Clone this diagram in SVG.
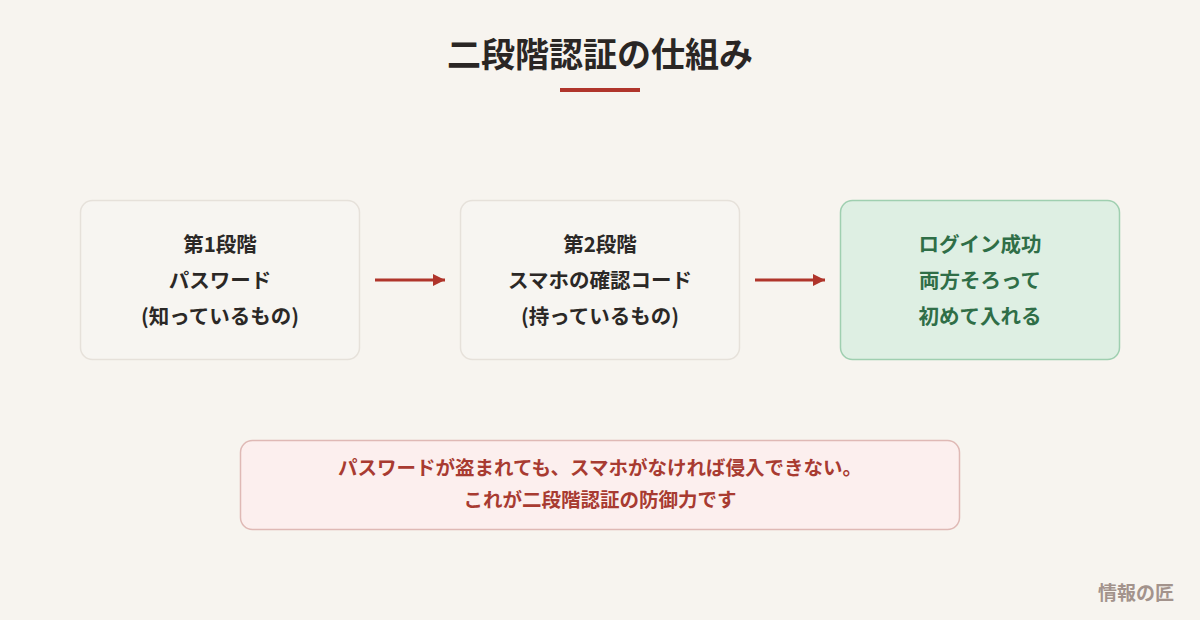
<svg xmlns="http://www.w3.org/2000/svg" width="1200" height="620" viewBox="0 0 1200 620">
<style>
text{font-family:"Noto Sans CJK JP","Noto Sans",sans-serif;font-weight:700;text-anchor:middle}
.box{fill:#f7f5f1;stroke:#e6e1da;stroke-width:1.5}
.t{font-size:20.5px;fill:#2b2826}
.g{font-size:20.5px;fill:#2f6e47}
.w{font-size:19.5px;fill:#a83b31}
.conn{stroke:#b0352b;stroke-width:3;fill:none}
</style>
<defs>
<marker id="ah" viewBox="0 0 10 10" refX="10" refY="5" markerWidth="4" markerHeight="4" orient="auto" markerUnits="strokeWidth">
<path d="M0,0 L10,5 L0,10 z" fill="#b0352b"/>
</marker>
</defs>
<rect width="1200" height="620" fill="#f7f4ef"/>
<g id="title">
<text x="600" y="67" style="font-size:34px;fill:#2a2624">二段階認証の仕組み</text>
<rect x="560" y="88" width="80" height="4" fill="#b0352b"/>
</g>
<g id="step1">
<rect class="box" x="80.5" y="200.5" width="279" height="159" rx="12"/>
<text class="t" x="220" y="252">第1段階</text>
<text class="t" x="220" y="288">パスワード</text>
<text class="t" x="220" y="324">(知っているもの)</text>
</g>
<g id="step2">
<rect class="box" x="460.5" y="200.5" width="279" height="159" rx="12"/>
<text class="t" x="600" y="252">第2段階</text>
<text class="t" x="600" y="288">スマホの確認コード</text>
<text class="t" x="600" y="324">(持っているもの)</text>
</g>
<g id="success">
<rect x="840.5" y="200.5" width="279" height="159" rx="12" fill="#deefe3" stroke="#9fcfb0" stroke-width="1.5"/>
<text class="g" x="980" y="252">ログイン成功</text>
<text class="g" x="980" y="288">両方そろって</text>
<text class="g" x="980" y="324">初めて入れる</text>
</g>
<g id="connectors">
<line class="conn" x1="375" y1="280" x2="445" y2="280" marker-end="url(#ah)"/>
<line class="conn" x1="755" y1="280" x2="825" y2="280" marker-end="url(#ah)"/>
</g>
<g id="note">
<rect x="240.5" y="440.5" width="719" height="89" rx="12" fill="#fcefee" stroke="#dfb9b5" stroke-width="1.5"/>
<text class="w" x="600" y="475">パスワードが盗まれても、スマホがなければ侵入できない。</text>
<text class="w" x="600" y="507">これが二段階認証の防御力です</text>
</g>
<g id="watermark">
<text x="1136" y="600" style="font-size:19px;fill:#a3938c">情報の匠</text>
</g>
</svg>
